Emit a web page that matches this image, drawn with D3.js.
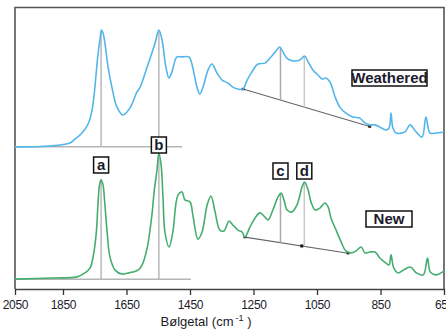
<!DOCTYPE html>
<html><head><meta charset="utf-8">
<script src="https://cdn.jsdelivr.net/npm/d3@7"></script>
<style>
html,body{margin:0;padding:0;background:#fff;}
svg{display:block;}
.tick text{font-family:"Liberation Sans Narrow","Arial Narrow","Liberation Sans",sans-serif;}
</style></head>
<body>
<svg id="c" width="446" height="331"></svg>
<script>
// Tick labels on the wavenumber axis
const tickLabels = [2050, 1850, 1650, 1450, 1250, 1050, 850, 650];

// Weathered spectrum (wavenumber, absorbance with offset)
const weatheredWn = [2050,1904,1828,1812,1790,1771,1759,1752,1746,1740,1733,1729,1724,1718,1708,1696,1680,1661,1639,1617,1607,1585,1570,1560,1548,1538,1526,1516,1507,1491,1475,1453,1444,1428,1419,1409,1393,1381,1365,1349,1330,1315,1299,1283,1270,1255,1236,1214,1198,1182,1167,1157,1145,1126,1104,1089,1078,1063,1047,1034,1022,1009,993,978,959,937,915,899,883,867,852,833,823,817,811,801,773,757,738,719,707,694,675,650];
const weatheredAbs = [50.4,50.7,51.8,53.2,55.3,58.5,63.1,68.8,75.9,83.0,89.0,91.8,90.8,87.2,78.7,71.6,64.5,61.7,64.2,69.9,71.6,78.7,83.7,87.2,91.8,88.3,78.7,74.8,77.0,82.3,82.3,82.3,79.8,71.6,69.1,71.6,77.7,79.8,76.6,74.1,73.0,71.6,70.9,70.9,74.1,77.0,79.8,80.1,81.9,84.0,85.8,84.0,81.9,80.9,81.2,82.6,80.5,77.7,75.9,74.5,74.8,73.4,68.1,64.5,62.4,61.0,60.6,58.9,58.2,58.2,57.4,56.4,57.1,62.4,57.1,55.3,55.7,58.2,55.7,53.9,61.0,55.3,55.3,55.7];

// New spectrum
const newWn = [2050,1892,1806,1781,1765,1754,1745,1740,1735,1730,1724,1718,1711,1702,1686,1664,1645,1630,1614,1601,1585,1570,1563,1554,1548,1541,1535,1529,1516,1504,1488,1475,1466,1450,1441,1425,1412,1396,1384,1371,1356,1343,1327,1315,1299,1286,1277,1261,1245,1230,1214,1204,1189,1173,1163,1154,1144,1129,1113,1097,1089,1078,1069,1056,1041,1025,1015,1006,990,974,959,943,927,911,899,883,867,852,833,823,817,808,794,778,756,737,715,702,693,674,650];
const newAbs = [3.5,3.9,4.3,5.7,7.4,12.1,20.2,29.8,36.9,38.7,36.9,29.8,20.2,11.3,6.7,5.3,5.7,6.0,6.7,8.5,14.5,26.2,34.4,42.2,48.2,44.0,32.3,20.2,14.9,20.2,33.3,34.4,31.6,30.9,26.2,17.7,20.2,29.8,33.0,27.3,20.9,20.6,24.1,22.7,20.9,20.2,18.4,22.0,25.2,27.0,25.5,24.5,28.0,32.6,34.0,31.6,28.0,27.3,29.8,36.2,37.9,35.1,30.9,28.0,28.7,30.5,29.1,25.2,20.9,16.7,13.5,12.8,13.5,14.9,12.8,13.1,13.1,11.0,9.2,8.5,12.1,7.4,5.7,6.7,7.8,5.7,5.0,11.0,6.0,5.0,6.4];

// Peak markers
const peakLabels = ["a", "b", "c", "d"];
const peakWn = [1730, 1548, 1165, 1090];

// Baselines: flat level for a,b; tangent baseline for c,d
const weatheredFlat = {level: 50.4, from: 2050, to: 1475};
const newFlat = {level: 3.5, from: 2050, to: 1447};
const weatheredTangentWn = [1283, 884];
const weatheredTangentAbs = [70.9, 57.6];
const newTangentWn = [1277, 952];
const newTangentAbs = [18.4, 12.7];

const seriesNames = ["Weathered", "New"];
const axisTitle = "Bølgetal (cm";

const svg = d3.select("#c");
const x = d3.scaleLinear().domain([2050, 1850, 650]).range([15, 63, 444]);
const y = d3.scaleLinear().domain([0, 100]).range([289, 7]);

const blue = "#52b6ea", green = "#44ad6e";
const narrow = '"Liberation Sans Narrow","Arial Narrow","Liberation Sans",sans-serif';

// frame
svg.append("path").attr("d", `M15,289V7.5H444V289`).attr("fill","none").attr("stroke","#555").attr("stroke-width",1.6);

// axis
const ax = svg.append("g").attr("transform","translate(0,289)")
  .call(d3.axisBottom(x).tickValues(tickLabels).tickFormat(d3.format("d")).tickSize(6).tickSizeOuter(0));
ax.select(".domain").attr("stroke","#444").attr("stroke-width",1.6);
ax.selectAll(".tick line").attr("stroke","#333").attr("stroke-width",1.3);
ax.selectAll(".tick text").attr("font-size",12).attr("fill","#1b1b2a").attr("dy","0.95em").attr("letter-spacing","-0.3px");

const title = svg.append("text").attr("x",206).attr("y",326).attr("text-anchor","middle")
  .attr("font-family",'"Liberation Sans",Arial,sans-serif').attr("font-size",13).attr("fill","#1b1b2a");
title.append("tspan").text(axisTitle);
title.append("tspan").attr("font-size",9).attr("dy",-5).attr("dx",2).text("-1");
title.append("tspan").attr("dy",5).text(" )");

function tangentAt(wn, tw, ta){ const t=(wn-tw[0])/(tw[1]-tw[0]); return ta[0]+t*(ta[1]-ta[0]); }
function interp(wn, xs, ys){
  for(let i=0;i<xs.length-1;i++){ if(wn<=xs[i] && wn>=xs[i+1]){ const t=(wn-xs[i])/(xs[i+1]-xs[i]); return ys[i]+t*(ys[i+1]-ys[i]); } }
  return ys[0];
}

function drawSeries(wn, ab, color, flat, tw, ta){
  const g = svg.append("g");
  // flat baseline
  g.append("line").attr("x1",x(flat.from)).attr("x2",x(flat.to)).attr("y1",y(flat.level)).attr("y2",y(flat.level))
    .attr("stroke","#b5b5b5").attr("stroke-width",1.5);
  // drop lines for a,b
  [0,1].forEach(i=>{
    const top = interp(peakWn[i], wn, ab);
    g.append("line").attr("x1",x(peakWn[i])).attr("x2",x(peakWn[i])).attr("y1",y(top)).attr("y2",y(flat.level))
      .attr("stroke","#b8b8b8").attr("stroke-width",1.5);
  });
  // tangent baseline
  g.append("line").attr("x1",x(tw[0])).attr("x2",x(tw[1])).attr("y1",y(ta[0])).attr("y2",y(ta[1]))
    .attr("stroke","#666").attr("stroke-width",1.1);
  [0,1].forEach(i=>{
    g.append("rect").attr("x",x(tw[i])-1.5).attr("y",y(ta[i])-1.2).attr("width",3).attr("height",2.4).attr("fill","#222");
  });
  [2,3].forEach(i=>{
    const top = interp(peakWn[i], wn, ab);
    g.append("line").attr("x1",x(peakWn[i])).attr("x2",x(peakWn[i])).attr("y1",y(top)).attr("y2",y(tangentAt(peakWn[i],tw,ta)))
      .attr("stroke", i===2 ? "#aaa" : "#c8c8c8").attr("stroke-width",1.5);
  });
  // curve
  g.append("path").datum(wn.map((w,i)=>[w,ab[i]]))
    .attr("d", d3.line().x(d=>x(d[0])).y(d=>y(d[1])).curve(d3.curveCatmullRom.alpha(0.5)))
    .attr("fill","none").attr("stroke",color).attr("stroke-width",1.6);
}

drawSeries(weatheredWn, weatheredAbs, blue, weatheredFlat, weatheredTangentWn, weatheredTangentAbs);
drawSeries(newWn, newAbs, green, newFlat, newTangentWn, newTangentAbs);
// small marker on the New tangent
svg.append("rect").attr("x",x(1098)-1.5).attr("y",y(tangentAt(1098,newTangentWn,newTangentAbs))-1.5).attr("width",3).attr("height",3).attr("fill","#111");

function labelBox(cx, top, w, h, txt, fs){
  svg.append("rect").attr("x",cx-w/2).attr("y",top).attr("width",w).attr("height",h)
    .attr("fill","#fff").attr("stroke","#111").attr("stroke-width",1.5);
  svg.append("text").attr("x",cx).attr("y",top+h/2).attr("dy","0.36em").attr("text-anchor","middle")
    .attr("font-family",narrow).attr("font-weight","bold").attr("font-size",fs).attr("fill","#1b1b2e").text(txt);
}
// peak letter boxes
const boxTop = [157, 137, 163, 163];
peakLabels.forEach((l,i)=> labelBox(x(peakWn[i]), boxTop[i], 15, 16, l, 15));
// series labels
labelBox(389.5, 70, 75, 16, seriesNames[0], 15);
labelBox(389, 211, 46, 16, seriesNames[1], 15);
</script>
</body></html>
